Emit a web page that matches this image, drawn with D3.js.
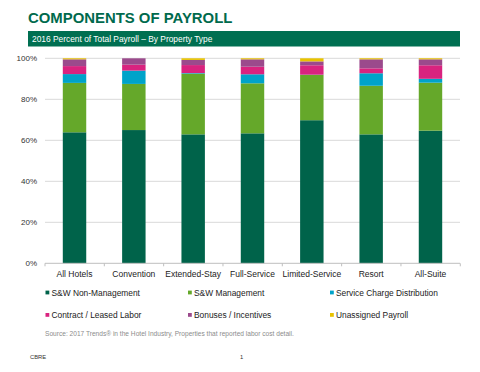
<!DOCTYPE html>
<html>
<head>
<meta charset="utf-8">
<script src="https://cdn.jsdelivr.net/npm/d3@7"></script>
<style>
  body { margin: 0; background: #fff; }
  text { font-family: "Liberation Sans", Arial, sans-serif; }
</style>
</head>
<body>
<div id="chart"></div>
<script>
// Property types (x categories)
var categories = ["All Hotels", "Convention", "Extended-Stay", "Full-Service", "Limited-Service", "Resort", "All-Suite"];

// Series (percent of total payroll)
var seriesNames = ["S&W Non-Management", "S&W Management", "Service Charge Distribution",
  "Contract / Leased Labor", "Bonuses / Incentives", "Unassigned Payroll"];
var nonManagement = [63.9, 65.0, 62.9, 63.4, 69.8, 62.9, 64.7];
var management = [24.1, 22.5, 29.6, 24.4, 22.1, 23.7, 23.4];
var serviceCharge = [4.3, 6.5, 0.3, 4.4, 0.1, 6.1, 1.9];
var contractLabor = [3.9, 2.9, 3.9, 3.7, 4.6, 2.4, 6.6];
var bonuses = [3.3, 3.1, 2.5, 3.6, 1.9, 4.4, 2.9];
var unassigned = [0.5, 0.0, 0.8, 0.5, 1.5, 0.5, 0.5];

var yTicks = [0, 20, 40, 60, 80, 100];
var colors = ["#00634a", "#65a82a", "#00a3c9", "#d9237f", "#9b4a8c", "#e8c300"];

var svgWidth = 480;
var svgHeight = 372;

var margin = { top: 58.3, right: 20, bottom: 108.7, left: 45 };
var chartWidth = svgWidth - margin.left - margin.right;
var chartHeight = svgHeight - margin.top - margin.bottom;

var svg = d3.select("#chart")
  .append("svg")
  .attr("width", svgWidth)
  .attr("height", svgHeight);

// Title and header bar
svg.append("text")
  .attr("x", 28)
  .attr("y", 23)
  .attr("font-size", 14.9)
  .attr("font-weight", "bold")
  .attr("fill", "#006a4d")
  .text("COMPONENTS OF PAYROLL");

svg.append("rect")
  .attr("x", 28)
  .attr("y", 31)
  .attr("width", 432)
  .attr("height", 15.5)
  .attr("fill", "#006f51");

svg.append("text")
  .attr("x", 32)
  .attr("y", 41.8)
  .attr("font-size", 8.4)
  .attr("fill", "#fff")
  .text("2016 Percent of Total Payroll \u2013 By Property Type");

var chartGroup = svg.append("g")
  .attr("transform", `translate(${margin.left}, ${margin.top})`);

// Build rows for stacking
var table = categories.map(function(c, i) {
  return {
    category: c,
    s0: nonManagement[i], s1: management[i], s2: serviceCharge[i],
    s3: contractLabor[i], s4: bonuses[i], s5: unassigned[i]
  };
});
var keys = ["s0", "s1", "s2", "s3", "s4", "s5"];
var stacked = d3.stack().keys(keys)(table);

var xBandScale = d3.scaleBand()
  .domain(categories)
  .range([0, chartWidth])
  .paddingInner(0.605)
  .paddingOuter(0.3);

var yLinearScale = d3.scaleLinear()
  .domain([0, 100])
  .range([chartHeight, 0]);

// gridlines
chartGroup.append("g")
  .selectAll("line")
  .data(yTicks.filter(d => d > 0))
  .enter()
  .append("line")
  .attr("x1", 0)
  .attr("x2", chartWidth)
  .attr("y1", d => yLinearScale(d))
  .attr("y2", d => yLinearScale(d))
  .attr("stroke", "#d9d9d9")
  .attr("stroke-width", 1);

// y axis labels
var leftAxis = d3.axisLeft(yLinearScale)
  .tickValues(yTicks)
  .tickSize(0)
  .tickPadding(8)
  .tickFormat(d => d + "%");

var yAxis = chartGroup.append("g").call(leftAxis);
yAxis.select(".domain").remove();
yAxis.selectAll("text")
  .attr("font-size", 8)
  .attr("font-family", "Liberation Sans, Arial, sans-serif")
  .attr("fill", "#333");

// bars
chartGroup.append("g")
  .selectAll("g")
  .data(stacked)
  .enter()
  .append("g")
  .attr("fill", (d, i) => colors[i])
  .selectAll("rect")
  .data(d => d)
  .enter()
  .append("rect")
  .attr("x", d => xBandScale(d.data.category))
  .attr("y", d => yLinearScale(d[1]))
  .attr("height", d => yLinearScale(d[0]) - yLinearScale(d[1]))
  .attr("width", xBandScale.bandwidth());

// x axis with ticks at band boundaries
var step = xBandScale.step();
var bandEdges = d3.range(categories.length + 1).map(i => i * step);
var xAxis = chartGroup.append("g")
  .attr("transform", `translate(0, ${chartHeight})`);

xAxis.append("line")
  .attr("x1", 0)
  .attr("x2", chartWidth)
  .attr("stroke", "#bfbfbf");

xAxis.selectAll(".edge")
  .data(bandEdges)
  .enter()
  .append("line")
  .attr("class", "edge")
  .attr("x1", d => d)
  .attr("x2", d => d)
  .attr("y1", 0)
  .attr("y2", 3)
  .attr("stroke", "#bfbfbf");

xAxis.selectAll(".xlabel")
  .data(categories)
  .enter()
  .append("text")
  .attr("class", "xlabel")
  .attr("x", d => xBandScale(d) + xBandScale.bandwidth() / 2)
  .attr("y", 13.8)
  .attr("text-anchor", "middle")
  .attr("font-size", 8.5)
  .attr("fill", "#222")
  .text(d => d);

// legend
var legendCols = [45.5, 188, 330];
var legendRows = [295.6, 318];
var legend = svg.append("g");
var items = legend.selectAll("g")
  .data(seriesNames)
  .enter()
  .append("g")
  .attr("transform", (d, i) => `translate(${legendCols[i % 3]}, ${legendRows[Math.floor(i / 3)]})`);

items.append("rect")
  .attr("x", 0)
  .attr("y", -5)
  .attr("width", 3.8)
  .attr("height", 3.8)
  .attr("fill", (d, i) => colors[i]);

items.append("text")
  .attr("x", 6)
  .attr("y", 0)
  .attr("font-size", 8.4)
  .attr("fill", "#222")
  .text(d => d);

// source and footer
svg.append("text")
  .attr("x", 45)
  .attr("y", 336.3)
  .attr("font-size", 6.6)
  .attr("fill", "#8c8c8c")
  .text("Source: 2017 Trends\u00ae in the Hotel Industry, Properties that reported labor cost detail.");

svg.append("text")
  .attr("x", 30)
  .attr("y", 359)
  .attr("font-size", 5.8)
  .attr("fill", "#333")
  .text("CBRE");

svg.append("text")
  .attr("x", 240)
  .attr("y", 359)
  .attr("font-size", 5.8)
  .attr("fill", "#333")
  .text("1");
</script>
</body>
</html>
